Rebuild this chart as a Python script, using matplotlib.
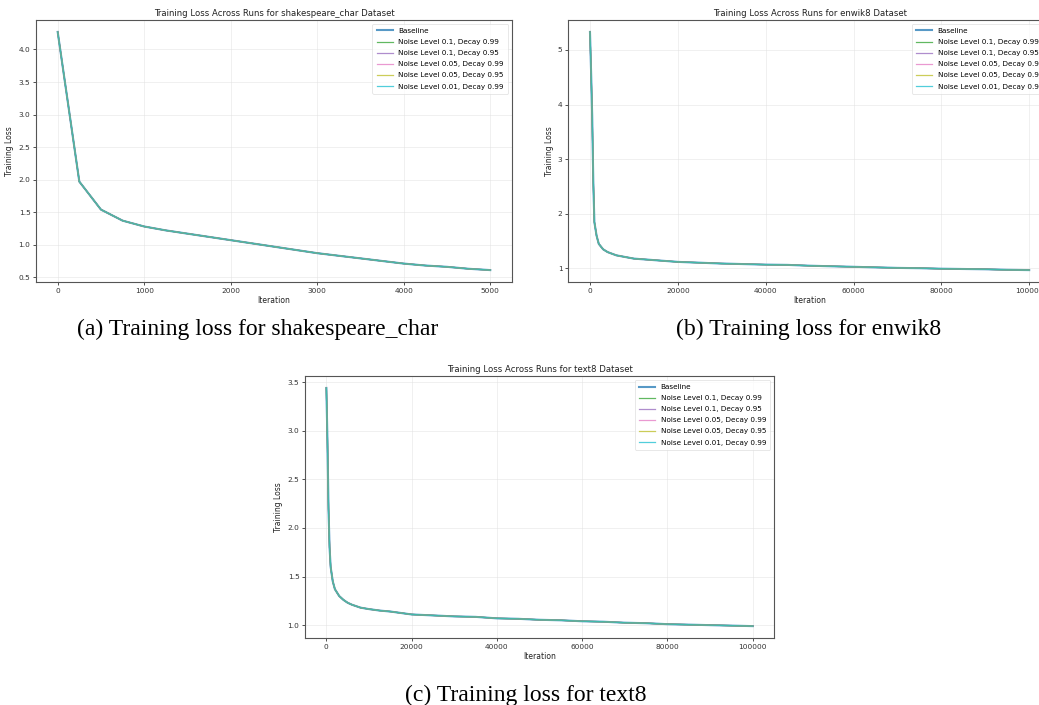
import matplotlib
matplotlib.use('Agg')
import matplotlib.pyplot as plt
import numpy as np

# ------------------------------------------------------ #
# Data
# ------------------------------------------------------ #
run_labels = ['Baseline',
              'Noise Level 0.1, Decay 0.99',
              'Noise Level 0.1, Decay 0.95',
              'Noise Level 0.05, Decay 0.99',
              'Noise Level 0.05, Decay 0.95',
              'Noise Level 0.01, Decay 0.99']

shakespeare_iters = [0, 250, 500, 750, 1000, 1250, 1500, 1750, 2000, 2250, 2500,
                     2750, 3000, 3250, 3500, 3750, 4000, 4250, 4500, 4750, 5000]
shakespeare_loss = [4.27, 1.97, 1.54, 1.37, 1.28, 1.22, 1.17, 1.12, 1.07, 1.02, 0.97,
                    0.92, 0.87, 0.83, 0.79, 0.75, 0.71, 0.68, 0.66, 0.63, 0.61]

long_iters = [0, 250, 500, 750, 1000, 1500, 2000, 3000, 4000, 5000, 6000, 8000,
              10000, 12500, 15000, 17500, 20000, 25000, 30000, 35000, 40000, 45000,
              50000, 55000, 60000, 65000, 70000, 75000, 80000, 85000, 90000, 95000,
              100000]
enwik8_loss = [5.33, 4.60, 3.80, 2.60, 1.85, 1.60, 1.45, 1.35, 1.30, 1.27, 1.24, 1.21,
               1.18, 1.165, 1.15, 1.135, 1.12, 1.105, 1.09, 1.08, 1.07, 1.065,
               1.05, 1.04, 1.03, 1.02, 1.01, 1.005, 0.995, 0.99, 0.985, 0.975,
               0.97]
text8_loss = [3.44, 2.90, 2.20, 1.80, 1.60, 1.45, 1.37, 1.30, 1.26, 1.23, 1.21, 1.18,
              1.165, 1.15, 1.14, 1.125, 1.11, 1.10, 1.09, 1.085, 1.07, 1.065,
              1.055, 1.05, 1.04, 1.035, 1.025, 1.02, 1.01, 1.005, 1.0, 0.995,
              0.99]

panels = [
    ('shakespeare_char', shakespeare_iters, shakespeare_loss,
     [0.0347, 0.600, 0.458, 0.3716], (0.248, 0.533), '(a) Training loss for shakespeare_char'),
    ('enwik8', long_iters, enwik8_loss,
     [0.5467, 0.600, 0.465, 0.3716], (0.778, 0.533), '(b) Training loss for enwik8'),
    ('text8', long_iters, text8_loss,
     [0.2936, 0.095, 0.4514, 0.3716], (0.506, 0.013), '(c) Training loss for text8'),
]

colors = plt.cm.tab10(np.linspace(0, 1, len(run_labels)))

# ------------------------------------------------------ #
# Plots
# ------------------------------------------------------ #
fig = plt.figure(figsize=(10.39, 7.05), dpi=100)

for name, iters, loss, rect, cap_pos, caption in panels:
    ax = fig.add_axes(rect)
    for i, (lab, col) in enumerate(zip(run_labels, colors)):
        lw = 1.5 if i == 0 else 0.9
        ax.plot(iters, loss, color=col, lw=lw, alpha=0.75, label=lab)
    ax.set_title(f'Training Loss Across Runs for {name} Dataset', fontsize=6.15, pad=3,
                 color='#222222')
    ax.set_xlabel('Iteration', fontsize=5.5, labelpad=2, color='#222222')
    ax.set_ylabel('Training Loss', fontsize=5.5, labelpad=3, color='#222222')
    ax.tick_params(labelsize=5.3, length=2.5, width=0.6, pad=1.5, colors='#333333')
    ax.grid(True, color='#dddddd', lw=0.5, alpha=0.6)
    for sp in ax.spines.values():
        sp.set_color('#555555')
        sp.set_linewidth(0.8)
    leg = ax.legend(loc='upper right', fontsize=5.2, frameon=True,
                    handlelength=2.2, borderpad=0.6, labelspacing=0.7)
    leg.get_frame().set_edgecolor('#dddddd')
    leg.get_frame().set_linewidth(0.6)
    fig.text(cap_pos[0], cap_pos[1], caption, ha='center', va='center',
             fontsize=17, family='Liberation Serif')

fig.savefig('out.png', dpi=100)
